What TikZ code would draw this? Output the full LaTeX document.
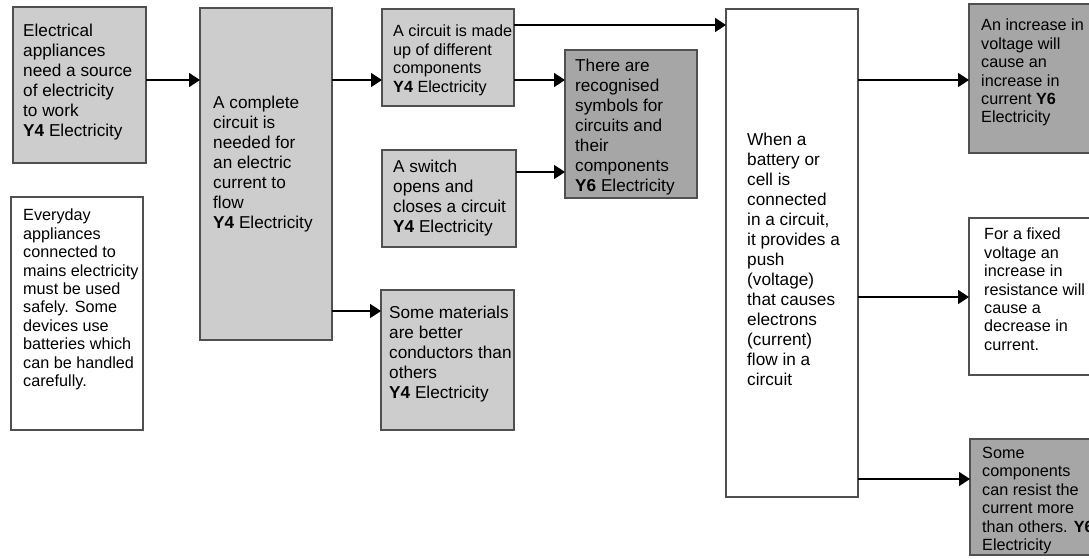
\documentclass[tikz,border=0pt]{standalone}
\usepackage{fontspec}
\setmainfont{Liberation Sans}
\usetikzlibrary{arrows.meta}
\definecolor{lightfill}{RGB}{205,205,205}
\definecolor{darkfill}{RGB}{166,166,166}
\definecolor{edge}{RGB}{80,80,80}
\tikzset{
  box/.style={draw=edge, line width=1.2pt, rectangle, inner sep=0pt, outer sep=0pt, anchor=north west},
  txt/.style={anchor=north west, inner sep=0pt, align=left, font=\fontsize{17.2}{20}\selectfont},
  txts/.style={anchor=north west, inner sep=0pt, align=left, font=\fontsize{16.2}{18.4}\selectfont},
  arr/.style={line width=1.6pt, -{Triangle[length=11pt,width=14pt]}}
}
\begin{document}
\begin{tikzpicture}[x=1pt,y=-1pt]
\useasboundingbox (0,0) rectangle (1089,558);
\clip (0,0) rectangle (1089,558);
% boxes
\node[box, fill=lightfill, minimum width=133pt, minimum height=156pt] (A) at (13,7) {};
\node[box, fill=white, minimum width=132pt, minimum height=233pt] (B) at (11,197) {};
\node[box, fill=lightfill, minimum width=132pt, minimum height=332pt] (C) at (200,8) {};
\node[box, fill=lightfill, minimum width=132pt, minimum height=97pt] (D) at (382,9) {};
\node[box, fill=darkfill, minimum width=132pt, minimum height=148pt] (E) at (565,50) {};
\node[box, fill=lightfill, minimum width=134pt, minimum height=97pt] (S) at (382,150) {};
\node[box, fill=lightfill, minimum width=133pt, minimum height=140pt] (F) at (381,290) {};
\node[box, fill=white, minimum width=132pt, minimum height=488pt] (W) at (726,9) {};
\node[box, fill=darkfill, minimum width=140pt, minimum height=149pt] (G) at (969,4) {};
\node[box, fill=white, minimum width=140pt, minimum height=157pt] (H) at (969,218) {};
\node[box, fill=darkfill, minimum width=140pt, minimum height=116pt] (I) at (970,439) {};
% texts
\node[txt] (tA) at (23,24) {Electrical\\appliances\\need a source\\of electricity\\to work\\\textbf{Y4} Electricity};
\node[txts] (tB) at (23,209) {Everyday\\appliances\\connected to\\mains electricity\\must be used\\safely. Some\\devices use\\batteries which\\can be handled\\carefully.};
\node[txt] (tC) at (213,96) {A complete\\circuit is\\needed for\\an electric\\current to\\flow\\\textbf{Y4} Electricity};
\node[txts] (tD) at (393,25) {A circuit is made\\up of different\\components\\\textbf{Y4} Electricity};
\node[txt] (tE) at (575,59) {There are\\recognised\\symbols for\\circuits and\\their\\components\\\textbf{Y6} Electricity};
\node[txt] (tS) at (393,160) {A switch\\opens and\\closes a circuit\\\textbf{Y4} Electricity};
\node[txt] (tF) at (389,306) {Some materials\\are better\\conductors than\\others\\\textbf{Y4} Electricity};
\node[txt] (tW) at (747,133) {When a\\battery or\\cell is\\connected\\in a circuit,\\it provides a\\push\\(voltage)\\that causes\\electrons\\(current)\\flow in a\\circuit};
\node[txts] (tG) at (981,19) {An increase in\\voltage will\\cause an\\increase in\\current \textbf{Y6}\\Electricity};
\node[txts] (tH) at (984,228) {For a fixed\\voltage an\\increase in\\resistance will\\cause a\\decrease in\\current.};
\node[txts] (tI) at (982,447) {Some\\components\\can resist the\\current more\\than others. \textbf{Y6}\\Electricity};
% arrow levels
\coordinate (y25) at (0,25);
\coordinate (y80) at (0,80);
\coordinate (y172) at (0,172);
\coordinate (y297) at (0,297);
\coordinate (y311) at (0,311);
\coordinate (y479) at (0,479);
% arrows
\draw[arr] (A.east |- y80) -- (C.west |- y80);
\draw[arr] (C.east |- y80) -- (D.west |- y80);
\draw[arr] (C.east |- y311) -- (F.west |- y311);
\draw[arr] (D.east |- y80) -- (E.west |- y80);
\draw[arr] (S.east |- y172) -- (E.west |- y172);
\draw[arr] (D.east |- y25) -- (W.west |- y25);
\draw[arr] (W.east |- y80) -- (G.west |- y80);
\draw[arr] (W.east |- y297) -- (H.west |- y297);
\draw[arr] (W.east |- y479) -- (I.west |- y479);
\end{tikzpicture}
\end{document}
